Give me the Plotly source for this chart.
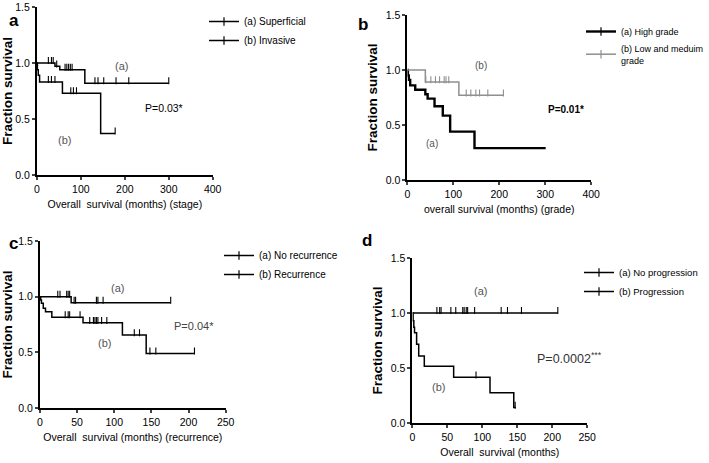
import plotly.graph_objects as go

W, H = 709, 463

# ---------------- data ----------------
# Panel a (stage)
a_sup_evt_t = [41, 52, 109]
a_sup_evt_s = [0.97, 0.94, 0.82]
a_sup_end = 300
a_sup_cens = [26, 33, 37, 45, 64, 68, 72, 76, 80, 132, 139, 152, 180, 209, 300]

a_inv_evt_t = [1, 3, 6, 58, 145]
a_inv_evt_s = [0.94, 0.89, 0.83, 0.73, 0.37]
a_inv_end = 178
a_inv_cens = [26, 33, 41, 77, 83, 90, 178]

# Panel b (grade)
b_high_evt_t = [1, 3, 6, 17, 39, 44, 59, 77, 93, 146]
b_high_evt_s = [0.95, 0.91, 0.86, 0.82, 0.78, 0.74, 0.67, 0.585, 0.44, 0.29]
b_high_end = 301
b_high_cens = []

b_low_evt_t = [39, 112]
b_low_evt_s = [0.89, 0.77]
b_low_end = 209
b_low_cens = [40, 51, 61, 70, 80, 84, 90, 128, 138, 149, 157, 175, 209]

# Panel c (recurrence)
c_norec_evt_t = [42]
c_norec_evt_s = [0.945]
c_norec_end = 176
c_norec_cens = [24, 27, 36, 38, 40, 46, 48, 76, 78, 85, 176]

c_rec_evt_t = [1, 2, 4.5, 7.5, 16, 58, 111, 143]
c_rec_evt_s = [0.97, 0.94, 0.895, 0.865, 0.815, 0.765, 0.655, 0.49]
c_rec_end = 208
c_rec_cens = [34, 38, 40, 54, 67, 72, 74, 76, 78, 83, 90, 127, 134, 148, 156, 208]

# Panel d (progression)
d_noprog_evt_t = []
d_noprog_evt_s = []
d_noprog_end = 208
d_noprog_cens = [35, 39, 41, 55, 62, 72, 74, 77, 79, 89, 127, 136, 156, 208]

d_prog_evt_t = [1, 2, 3, 6, 9, 17, 59, 111, 145]
d_prog_evt_s = [0.93, 0.87, 0.82, 0.715, 0.61, 0.515, 0.415, 0.275, 0.14]
d_prog_end = 148
d_prog_cens = [91, 147]

x_ticks_ab = [0, 100, 200, 300, 400]
x_ticks_cd = [0, 50, 100, 150, 200, 250]
y_ticks = [0.0, 0.5, 1.0, 1.5]
y_tick_text = ["0.0", "0.5", "1.0", "1.5"]

# ---------------- helpers ----------------
def xdom(lo, hi):
    return [lo / W, hi / W]

def ydom(top, bottom):
    return [1 - bottom / H, 1 - top / H]

def curve(evt_t, evt_s, end_t):
    xs = [0] + list(evt_t) + [end_t]
    ys = [1.0] + list(evt_s) + [evt_s[-1] if evt_s else 1.0]
    return xs, ys

def surv_at(t, evt_t, evt_s):
    s = 1.0
    for et, es in zip(evt_t, evt_s):
        if et <= t:
            s = es
    return s

FONT = "Liberation Sans, Arial, sans-serif"

fig = go.Figure()

def add_series(ax, evt_t, evt_s, end_t, cens, name, legend, color="black", width=1.5):
    xs, ys = curve(evt_t, evt_s, end_t)
    xa = "x" if ax == 1 else f"x{ax}"
    ya = "y" if ax == 1 else f"y{ax}"
    fig.add_trace(go.Scatter(x=xs, y=ys, mode="lines", line=dict(color=color, width=width, shape="hv"),
                             xaxis=xa, yaxis=ya, showlegend=False, hoverinfo="skip"))
    if cens:
        cy = [surv_at(t, evt_t, evt_s) + 0.022 for t in cens]
        fig.add_trace(go.Scatter(x=cens, y=cy, mode="markers",
                                 marker=dict(symbol="line-ns", size=5, line=dict(color=color, width=1.1)),
                                 xaxis=xa, yaxis=ya, showlegend=False, hoverinfo="skip"))
    # legend-only entry
    fig.add_trace(go.Scatter(x=[None], y=[None], mode="lines+markers", name=name,
                             line=dict(color=color, width=width),
                             marker=dict(symbol="line-ns", size=6, line=dict(color=color, width=1.2)),
                             xaxis=xa, yaxis=ya, legend=legend, showlegend=True))

add_series(1, a_sup_evt_t, a_sup_evt_s, a_sup_end, a_sup_cens, "(a) Superficial", "legend")
add_series(1, a_inv_evt_t, a_inv_evt_s, a_inv_end, a_inv_cens, "(b) Invasive", "legend")
add_series(2, b_high_evt_t, b_high_evt_s, b_high_end, b_high_cens, "(a) High grade", "legend2", width=2.4)
add_series(2, b_low_evt_t, b_low_evt_s, b_low_end, b_low_cens, "(b) Low and meduim<br>grade", "legend2", color="#8f8f8f", width=1.5)
add_series(3, c_norec_evt_t, c_norec_evt_s, c_norec_end, c_norec_cens, "(a) No recurrence", "legend3")
add_series(3, c_rec_evt_t, c_rec_evt_s, c_rec_end, c_rec_cens, "(b) Recurrence", "legend3")
add_series(4, d_noprog_evt_t, d_noprog_evt_s, d_noprog_end, d_noprog_cens, "(a) No progression", "legend4")
add_series(4, d_prog_evt_t, d_prog_evt_s, d_prog_end, d_prog_cens, "(b) Progression", "legend4")

# ---------------- axes ----------------
panels = {
    1: dict(x=(37, 213), y=(7, 175), xr=[0, 400], xt=x_ticks_ab, title="Overall  survival (months) (stage)"),
    2: dict(x=(408, 592), y=(15, 180), xr=[0, 400], xt=x_ticks_ab, title="overall survival (months) (grade)"),
    3: dict(x=(40, 226), y=(241, 408), xr=[0, 250], xt=x_ticks_cd, title="Overall  survival (months) (recurrence)"),
    4: dict(x=(413, 588), y=(258, 423), xr=[0, 250], xt=x_ticks_cd, title="Overall  survival (months)"),
}
tickfont = dict(family=FONT, size=10.5, color="black")
for i, p in panels.items():
    xk = "xaxis" if i == 1 else f"xaxis{i}"
    yk = "yaxis" if i == 1 else f"yaxis{i}"
    anc_x = "y" if i == 1 else f"y{i}"
    anc_y = "x" if i == 1 else f"x{i}"
    fig.layout[xk] = dict(domain=xdom(*p["x"]), anchor=anc_x, range=p["xr"], automargin=False,
                          tickvals=p["xt"], ticks="outside", ticklen=3, tickwidth=1.5, showline=True,
                          linecolor="black", linewidth=2, showgrid=False, zeroline=False,
                          tickfont=tickfont, fixedrange=True,
                          title=dict(text=p["title"], font=dict(family=FONT, size=10.5, color="black"), standoff=7))
    fig.layout[yk] = dict(domain=ydom(*p["y"]), anchor=anc_y, range=[0, 1.5], automargin=False,
                          tickvals=y_ticks, ticktext=y_tick_text, ticks="outside", ticklen=3, tickwidth=1.5,
                          showline=True, linecolor="black", linewidth=2, showgrid=False, zeroline=False,
                          tickfont=tickfont, fixedrange=True,
                          title=dict(text="<b>Fraction survival</b>", font=dict(family=FONT, size=13.5, color="black"), standoff=5))

# ---------------- legends ----------------
def leg(xpx, ypx, size=10):
    return dict(x=xpx / W, y=1 - ypx / H, xanchor="left", yanchor="top", bgcolor="rgba(0,0,0,0)",
                font=dict(family=FONT, size=size, color="black"), itemwidth=30,
                tracegroupgap=0, itemclick=False, itemdoubleclick=False)

fig.update_layout(
    legend=leg(204, 7),
    legend2=leg(582, 17, 9),
    legend3=leg(219, 241),
    legend4=leg(579, 258, 9.5),
)

# ---------------- annotations ----------------
ann = []
def txt(xref, yref, x, y, t, size=11, color="#555555", bold=False):
    ann.append(dict(xref=xref, yref=yref, x=x, y=y, text=f"<b>{t}</b>" if bold else t, showarrow=False,
                    font=dict(family=FONT, size=size, color=color)))

txt("x", "y", 192, 0.97, "(a)")
txt("x", "y", 63, 0.31, "(b)")
txt("x", "y", 290, 0.60, "P=0.03*", size=10.5, color="black")
txt("x2", "y2", 161, 1.045, "(b)", size=10)
txt("x2", "y2", 54, 0.33, "(a)", size=10)
txt("x2", "y2", 346, 0.64, "P=0.01*", size=10, color="black", bold=True)
txt("x3", "y3", 105, 1.08, "(a)")
txt("x3", "y3", 87, 0.58, "(b)")
txt("x3", "y3", 208, 0.74, "P=0.04*", size=11, color="#444444")
txt("x4", "y4", 98, 1.20, "(a)")
txt("x4", "y4", 37, 0.33, "(b)")
txt("x4", "y4", 225, 0.59, "P=0.0002<sup>***</sup>", size=12.5, color="#333333")

for lab, xp, yp in [("a", 7, 9), ("b", 364, 13), ("c", 7, 243), ("d", 368, 240)]:
    ann.append(dict(xref="paper", yref="paper", x=xp / W, y=1 - yp / H, text=f"<b>{lab}</b>",
                    showarrow=False, font=dict(family=FONT, size=17, color="black")))

fig.update_layout(annotations=ann, width=W, height=H, margin=dict(l=0, r=0, t=0, b=0),
                  plot_bgcolor="white", paper_bgcolor="white", font=dict(family=FONT),
                  hovermode=False)

fig.write_html("out.html", config={"displayModeBar": False, "staticPlot": False},
               post_script="document.body.style.margin='0';document.body.style.overflow='hidden';")
